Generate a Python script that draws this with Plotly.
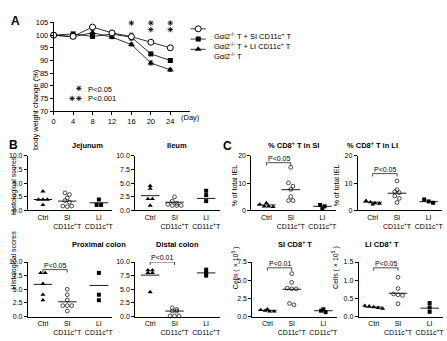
import plotly.graph_objects as go

W, H = 447, 341
FONT = "Liberation Sans, Arial, sans-serif"

# ---------------- Panel A data ----------------
days = [0, 4, 8, 12, 16, 20, 24]
si_mean = [100, 99.5, 103.2, 100.9, 99.4, 97.2, 95.0]
si_err = [0, 0.5, 0.5, 0.5, 1.4, 0.7, 0.8]
li_mean = [100, 100.5, 99.5, 100.4, 99.2, 92.6, 90.0]
li_err = [0, 0.4, 0.5, 0.4, 0.6, 0.5, 0.7]
ctrl_mean = [100, 99.3, 101.0, 99.2, 96.3, 89.0, 86.3]
ctrl_err = [0, 0.4, 0.8, 0.6, 0.6, 0.8, 0.6]
series_names = ["Gαi2<sup>-/-</sup> T + SI CD11c<sup>+</sup> T",
                "Gαi2<sup>-/-</sup> T + LI CD11c<sup>+</sup> T",
                "Gαi2<sup>-/-</sup> T"]
sig_days = [16, 20, 24]
sig_counts = [1, 2, 2]
y_ticks_a = [70, 75, 80, 85, 90, 95, 100, 105]
x_ticks_a = [0, 4, 8, 12, 16, 20, 24]

# ---------------- Panel B/C data ----------------
cat_labels = ["Ctrl", "SI<br>CD11c<sup>+</sup>T", "LI<br>CD11c<sup>+</sup>T"]

jej_ctrl = [3.5, 2.0, 2.0, 2.0, 1.0]
jej_si = [3.2, 2.9, 2.3, 1.8, 1.5, 0.8, 0.7, 0.8]
jej_li = [2.0, 1.0, 1.0]
jej_lines = [2.0, 1.7, 1.4]

ile_ctrl = [4.5, 4.0, 2.1, 2.1, 0.9]
ile_si = [2.5, 1.7, 1.3, 1.1, 0.9, 0.9, 0.9]
ile_li = [3.6, 2.8, 1.7]
ile_lines = [2.7, 1.5, 2.2]

prox_ctrl = [8.0, 8.0, 6.0, 4.0, 3.0]
prox_si = [5.0, 4.0, 3.0, 2.0, 2.0, 2.0, 1.0]
prox_li = [8.0, 4.0, 3.0]
prox_lines = [5.9, 2.7, 5.7]

dist_ctrl = [8.5, 8.5, 8.0, 8.0, 4.5]
dist_si = [1.6, 1.3, 1.0, 1.0, 0.1, 0.1, 0.1]
dist_li = [8.6, 8.0, 7.5]
dist_lines = [7.6, 1.0, 8.0]

pct_si_ctrl = [2.7, 2.2, 1.5, 1.5, 1.3]
pct_si_si = [15.8, 10.1, 8.9, 7.7, 5.1, 3.6, 3.6]
pct_si_li = [2.0, 1.5, 0.8]
pct_si_lines = [2.0, 7.6, 1.5]

pct_li_ctrl = [3.5, 3.0, 2.7, 2.5, 2.2]
pct_li_si = [10.8, 7.6, 6.9, 6.5, 5.3, 4.4, 2.9]
pct_li_li = [4.0, 3.3, 2.8]
pct_li_lines = [3.0, 6.3, 3.2]

cell_si_ctrl = [1.0, 0.9, 0.8, 0.7, 0.7]
cell_si_si = [5.9, 4.7, 3.9, 3.8, 3.8, 1.8, 1.6]
cell_si_li = [1.0, 0.8, 0.6]
cell_si_lines = [0.85, 3.75, 0.8]

cell_li_ctrl = [0.30, 0.28, 0.26, 0.24, 0.22]
cell_li_si = [1.08, 0.77, 0.62, 0.60, 0.58, 0.35]
cell_li_li = [0.37, 0.25, 0.13]
cell_li_lines = [0.26, 0.64, 0.23]

# bracket (level, label)
prox_sig = [8.6, "P&lt;0.05"]
dist_sig = [10.0, "P&lt;0.01"]
pct_si_sig = [17.5, "P&lt;0.05"]
pct_li_sig = [13.5, "P&lt;0.05"]
cell_si_sig = [6.7, "P&lt;0.01"]
cell_li_sig = [1.34, "P&lt;0.05"]

fig = go.Figure()
ann = []
layout = {}
BLACK = "black"

# ---------------- Panel A ----------------
A_L, A_R, A_T, A_B = 52, 189, 19, 110
layout["xaxis"] = dict(domain=[A_L / W, A_R / W], range=[0, 28], anchor="y",
                       tickvals=x_ticks_a, ticks="outside", ticklen=3, showline=True,
                       linecolor=BLACK, linewidth=0.8, tickcolor=BLACK, tickwidth=0.8,
                       showgrid=False, zeroline=False, tickfont=dict(size=7.5, family=FONT, color=BLACK))
layout["yaxis"] = dict(domain=[1 - A_B / H, 1 - A_T / H], range=[70, 105], anchor="x",
                       tickvals=y_ticks_a, ticks="outside", ticklen=3, showline=True,
                       linecolor=BLACK, linewidth=0.8, tickcolor=BLACK, tickwidth=0.8,
                       showgrid=False, zeroline=False, tickfont=dict(size=7.5, family=FONT, color=BLACK))

styles = [
    dict(symbol="circle", color="white", size=6, line=dict(color=BLACK, width=1)),
    dict(symbol="square", color=BLACK, size=5, line=dict(color=BLACK, width=0)),
    dict(symbol="triangle-up", color=BLACK, size=6, line=dict(color=BLACK, width=0)),
]
series = [(si_mean, si_err), (li_mean, li_err), (ctrl_mean, ctrl_err)]
for i in [2, 1, 0]:
    m, e = series[i]
    fig.add_trace(go.Scatter(x=days, y=m, mode="lines+markers", xaxis="x", yaxis="y",
                             line=dict(color=BLACK, width=0.8), marker=styles[i],
                             error_y=dict(type="data", array=e, color=BLACK, thickness=0.8, width=2),
                             cliponaxis=False, showlegend=False))

# significance stars as asterisk marks
star_rows = [104.8, 102.2]
sx, sy = [], []
for d, c in zip(sig_days, sig_counts):
    for r in range(c):
        sx.append(d)
        sy.append(star_rows[r])
key_x = [5.2, 3.8, 5.2]
key_y = [79.0, 75.0, 75.0]
fig.add_trace(go.Scatter(x=sx + key_x, y=sy + key_y, mode="markers",
                         marker=dict(symbol="asterisk-open", size=4.5, color=BLACK,
                                     line=dict(color=BLACK, width=0.9)),
                         xaxis="x", yaxis="y", cliponaxis=False, showlegend=False, hoverinfo="skip"))
ann.append(dict(x=6.6, y=78.7, xref="x", yref="y", text="P&lt;0.05", showarrow=False, xanchor="left",
                font=dict(size=7.5, family=FONT, color=BLACK)))
ann.append(dict(x=6.6, y=74.8, xref="x", yref="y", text="P&lt;0.001", showarrow=False, xanchor="left",
                font=dict(size=7.5, family=FONT, color=BLACK)))
ann.append(dict(x=190 / W, y=1 - 117 / H, xref="paper", yref="paper", text="(Day)", showarrow=False,
                font=dict(size=7.5, family=FONT, color=BLACK)))
ann.append(dict(x=27 / W, y=1 - 65 / H, xref="paper", yref="paper", text="body weight change (%)",
                textangle=-90, showarrow=False, font=dict(size=7.5, family=FONT, color=BLACK)))

# manual legend
LG_T, LG_B = 20, 52
layout["xaxis10"] = dict(domain=[188 / W, 206 / W], range=[0, 1], anchor="y10", visible=False)
layout["yaxis10"] = dict(domain=[1 - LG_B / H, 1 - LG_T / H], range=[2.524, -0.524], anchor="x10", visible=False)
for i, name in enumerate(series_names):
    fig.add_trace(go.Scatter(x=[0.1, 0.95], y=[i, i], mode="lines", xaxis="x10", yaxis="y10",
                             line=dict(color=BLACK, width=0.8), showlegend=False))
    fig.add_trace(go.Scatter(x=[0.53], y=[i], mode="markers", xaxis="x10", yaxis="y10",
                             marker=styles[i], showlegend=False))
    ann.append(dict(x=211 / W, y=1 - (25.5 + 10.5 * i) / H, xref="paper", yref="paper", text=name,
                    showarrow=False, xanchor="left", font=dict(size=7.5, family=FONT, color=BLACK)))

# ---------------- Panels B/C ----------------
cat_x = [0, 1, 2.3]
XR = [-0.62, 2.85]
TICKS_B = ([0, 2.5, 5, 7.5, 10], ["0.0", "2.5", "5.0", "7.5", "10.0"])
panels = [
    ("Jejunum", 26, 111, 156, 212, [0, 10], TICKS_B, [jej_ctrl, jej_si, jej_li], jej_lines, None,
     "Histological scores", 6),
    ("Ileum", 134, 219, 156, 212, [0, 10], TICKS_B, [ile_ctrl, ile_si, ile_li], ile_lines, None, None, None),
    ("Proximal colon", 26, 111, 265, 321, [0, 10], TICKS_B, [prox_ctrl, prox_si, prox_li], prox_lines,
     prox_sig, "Histological scores", 6),
    ("Distal colon", 134, 219, 265, 321, [0, 10], TICKS_B, [dist_ctrl, dist_si, dist_li], dist_lines,
     dist_sig, None, None),
    ("% CD8<sup>+</sup> T in SI", 251, 336, 156, 212, [0, 20], ([0, 10, 20], ["0", "10", "20"]),
     [pct_si_ctrl, pct_si_si, pct_si_li], pct_si_lines, pct_si_sig, "% of total IEL", 234),
    ("% CD8<sup>+</sup> T in LI", 358, 443, 156, 212, [0, 20], ([0, 10, 20], ["0", "10", "20"]),
     [pct_li_ctrl, pct_li_si, pct_li_li], pct_li_lines, pct_li_sig, "% of total IEL", 342),
    ("SI CD8<sup>+</sup> T", 252, 337, 265, 321, [0, 7.5], ([0, 2.5, 5, 7.5], ["0.0", "2.5", "5.0", "7.5"]),
     [cell_si_ctrl, cell_si_si, cell_si_li], cell_si_lines, cell_si_sig, "Cells ( × 10<sup>5</sup> )", 235),
    ("LI CD8<sup>+</sup> T", 359, 444, 265, 321, [0, 1.5], ([0, 0.5, 1.0, 1.5], ["0.0", "0.5", "1.0", "1.5"]),
     [cell_li_ctrl, cell_li_si, cell_li_li], cell_li_lines, cell_li_sig, "Cells ( × 10<sup>5</sup> )", 343),
]

grp_styles = [
    dict(symbol="triangle-up", color=BLACK, size=4.5, line=dict(width=0)),
    dict(symbol="circle-open", color=BLACK, size=3.8, line=dict(color=BLACK, width=0.7)),
    dict(symbol="square", color=BLACK, size=4, line=dict(width=0)),
]


def swarm(vals, ppu_y, ppu_x, d=4.5):
    rows = {}
    for i, v in enumerate(vals):
        rows.setdefault(int(round(v * ppu_y / d)), []).append(i)
    offs = [0.0] * len(vals)
    for idx in rows.values():
        n = len(idx)
        for j, i in enumerate(idx):
            offs[i] = (j - (n - 1) / 2) * d / ppu_x
    return offs


for k, (title, L, R, T, B, yr, (tv, tt), groups, lines, sig, ytitle, ytx) in enumerate(panels, start=2):
    xa, ya = f"x{k}", f"y{k}"
    layout[f"xaxis{k}"] = dict(domain=[L / W, R / W], range=XR, anchor=ya, tickvals=cat_x, ticktext=cat_labels,
                               showline=True, linecolor=BLACK, linewidth=0.8, ticks="", showgrid=False,
                               zeroline=False, tickfont=dict(size=7, family=FONT, color=BLACK))
    layout[f"yaxis{k}"] = dict(domain=[1 - B / H, 1 - T / H], range=yr, anchor=xa, tickvals=tv, ticktext=tt,
                               ticks="outside", ticklen=3, showline=True, linecolor=BLACK, linewidth=0.8,
                               tickcolor=BLACK, tickwidth=0.8, showgrid=False, zeroline=False,
                               tickfont=dict(size=7, family=FONT, color=BLACK))
    ppu_x = (R - L) / (XR[1] - XR[0])
    ppu_y = (B - T) / (yr[1] - yr[0])
    for g, vals in enumerate(groups):
        offs = swarm(vals, ppu_y, ppu_x)
        fig.add_trace(go.Scatter(x=[cat_x[g] + o for o in offs], y=vals, mode="markers", xaxis=xa, yaxis=ya,
                                 marker=grp_styles[g], cliponaxis=False, showlegend=False))
        fig.add_trace(go.Scatter(x=[cat_x[g] - 0.38, cat_x[g] + 0.38], y=[lines[g], lines[g]], mode="lines",
                                 xaxis=xa, yaxis=ya, line=dict(color=BLACK, width=0.9),
                                 cliponaxis=False, showlegend=False))
    if sig is not None:
        lvl, txt = sig
        dy = 3 / ppu_y
        fig.add_trace(go.Scatter(x=[cat_x[0], cat_x[0], cat_x[1], cat_x[1]], y=[lvl - dy, lvl, lvl, lvl - dy],
                                 mode="lines", xaxis=xa, yaxis=ya, line=dict(color=BLACK, width=0.7),
                                 cliponaxis=False, showlegend=False))
        ann.append(dict(x=(cat_x[0] + cat_x[1]) / 2, y=lvl, xref=xa, yref=ya, text=txt, showarrow=False,
                        yanchor="bottom", yshift=-1, font=dict(size=7, family=FONT, color=BLACK)))
    ann.append(dict(x=(L + R) / 2 / W, y=1 - (T - 11) / H, xref="paper", yref="paper", text=f"<b>{title}</b>",
                    showarrow=False, font=dict(size=7.5, family=FONT, color=BLACK)))
    if ytitle:
        ann.append(dict(x=ytx / W, y=1 - ((T + B) / 2 + 2) / H, xref="paper", yref="paper", text=ytitle,
                        textangle=-90, showarrow=False, font=dict(size=7, family=FONT, color=BLACK)))

# panel letters
for letter, px, py in [("A", 7, 8), ("B", 5, 145), ("C", 227, 146)]:
    ann.append(dict(x=px / W, y=1 - py / H, xref="paper", yref="paper", text=f"<b>{letter}</b>",
                    showarrow=False, font=dict(size=12, family=FONT, color=BLACK)))

fig.update_layout(width=W, height=H, margin=dict(l=0, r=0, t=0, b=0, pad=0), showlegend=False,
                  paper_bgcolor="white", plot_bgcolor="white", font=dict(family=FONT, color=BLACK),
                  annotations=ann, **layout)
fig.write_html("out.html", config={"displayModeBar": False},
               post_script="document.body.style.margin='0';document.body.style.overflow='hidden';")
